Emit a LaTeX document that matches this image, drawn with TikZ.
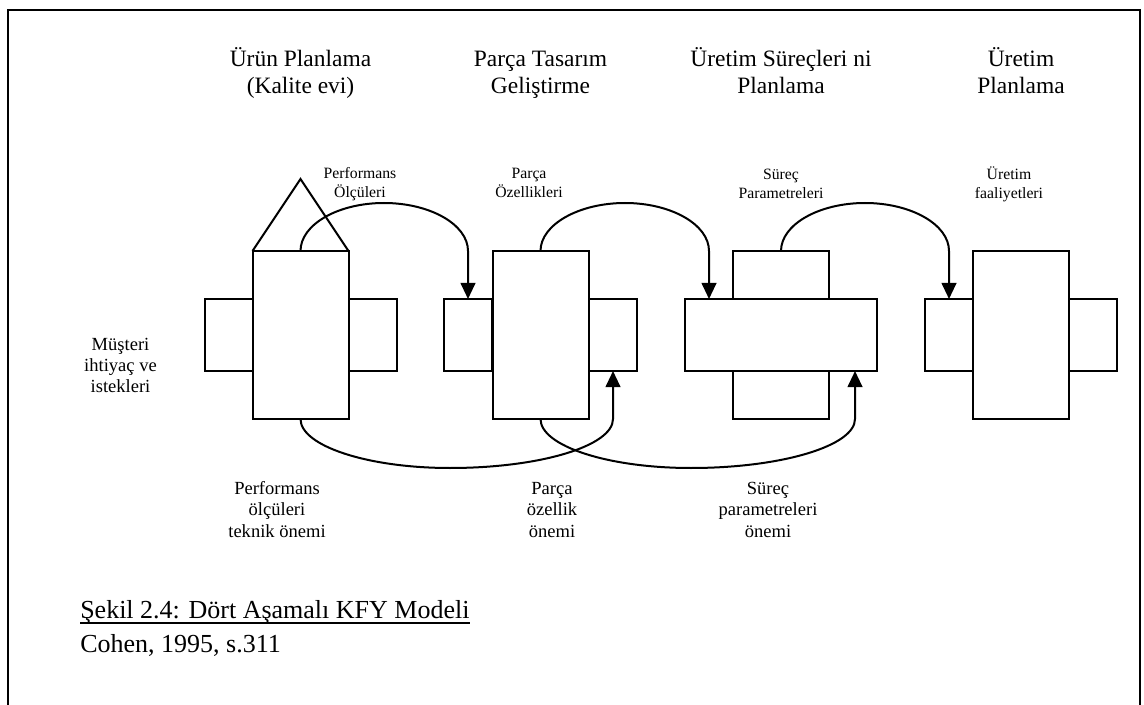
\documentclass[tikz,border=0pt]{standalone}
\usepackage{fontspec}
\setmainfont{Liberation Serif}
\usetikzlibrary{arrows.meta,calc}

% centred (or left) stack of lines whose baseline is the first line
\newcommand\labelstack[2][c]{\begin{tabular}[t]{@{}#1@{}}#2\end{tabular}}
% underlined caption line with a firm rule
\newsavebox\capbox
\newcommand\capline[1]{\sbox\capbox{#1}\rlap{\rule[-4.3pt]{\wd\capbox}{1.1pt}}\usebox\capbox}

\tikzset{
  px/.style={x=0.75pt,y=-0.75pt},
  box/.style={draw,fill=white,line width=1.5pt,inner sep=0pt,outer sep=0pt,rectangle},
  tallbox/.style={box,minimum width=72pt,minimum height=126pt},
  sidebox/.style={box,minimum width=36pt,minimum height=54pt},
  widebox/.style={box,minimum width=144pt,minimum height=54pt},
  link/.style={line width=1.5pt},
  flow/.style={link,-{Triangle[width=11pt,length=12pt]}},
  heading/.style={inner sep=0pt,anchor=base,font=\fontsize{17.6pt}{20.25pt}\selectfont},
  toplabel/.style={inner sep=0pt,anchor=base,font=\fontsize{11.8pt}{14.25pt}\selectfont},
  midlabel/.style={inner sep=0pt,anchor=base,font=\fontsize{13.9pt}{16.1pt}\selectfont},
  caption/.style={inner sep=0pt,anchor=base west,font=\fontsize{19.5pt}{25.5pt}\selectfont},
}

\begin{document}
\begin{tikzpicture}[px]
\useasboundingbox (0,0) rectangle (1144,705);

% open frame
\draw[line width=1.6pt] (8,705) -- (8,10) -- (1140,10) -- (1140,705);

% stage headings
\node[heading] (h1) at (300.5,67) {\labelstack{Ürün Planlama\\(Kalite evi)}};
\node[heading] (h2) at (540.5,67) {\labelstack{Parça Tasarım\\Geliştirme}};
\node[heading] (h3) at (781,67) {\labelstack{Üretim Süreçleri ni\\Planlama}};
\node[heading] (h4) at (1021,67) {\labelstack{Üretim\\Planlama}};

% stage 1: house of quality
\node[sidebox] (r1l) at (229,335) {};
\node[sidebox] (r1r) at (372.5,335) {};
\node[tallbox] (r1) at (300.5,335) {};
\coordinate (apex) at (300.5,179);
\draw[link] (r1.north west) -- (apex) -- (r1.north east);

% stage 2
\node[sidebox] (r2l) at (468,335) {};
\node[sidebox] (r2r) at (613,335) {};
\node[tallbox] (r2) at (540.5,335) {};

% stage 3
\node[tallbox] (r3) at (781,335) {};
\node[widebox] (w3) at (781,335) {};
\coordinate (w3out) at ($(w3.north west)+(24,0)$);
\coordinate (w3in) at ($(w3.south east)+(-22,0)$);

% stage 4
\node[sidebox] (r4l) at (949,335) {};
\node[sidebox] (r4r) at (1093,335) {};
\node[tallbox] (r4) at (1021,335) {};

% upper links
\draw[flow] (r1.north) .. controls +(0,-26.5) and +(-46,0) .. (384,203)
  .. controls +(46,0) and +(0,-26.5) .. (r2l.north |- r1.north) -- (r2l.north);
\draw[flow] (r2.north) .. controls +(0,-26.5) and +(-46,0) .. (625,203)
  .. controls +(46,0) and +(0,-26.5) .. (w3out |- r2.north) -- (w3out);
\draw[flow] (r3.north) .. controls +(0,-26.5) and +(-46,0) .. (865,203)
  .. controls +(46,0) and +(0,-26.5) .. (r4l.north |- r3.north) -- (r4l.north);

% lower links
\draw[flow] (r1.south) .. controls +(0,27) and +(-82,0) .. (450,468)
  .. controls +(90,0) and +(0,27) .. (r2r.south |- r1.south) -- (r2r.south);
\draw[flow] (r2.south) .. controls +(0,27) and +(-83,0) .. (691,468)
  .. controls +(90,0) and +(0,27) .. (w3in |- r2.south) -- (w3in);

% labels of the links
\node[toplabel] (t1) at (360,179) {\labelstack{Performans\\Ölçüleri}};
\node[toplabel] (t2) at (529,179) {\labelstack{Parça\\Özellikleri}};
\node[toplabel] (t3) at (781,180) {\labelstack{Süreç\\Parametreleri}};
\node[toplabel] (t4) at (1009,180) {\labelstack{Üretim\\faaliyetleri}};

\node[midlabel] (cust) at (120.5,350) {\labelstack{Müşteri\\ihtiyaç ve\\istekleri}};

\node[midlabel] (b1) at (277,494.5) {\labelstack{Performans\\ölçüleri\\teknik önemi}};
\node[midlabel] (b2) at (552,494.5) {\labelstack{Parça\\özellik\\önemi}};
\node[midlabel] (b3) at (768,494.5) {\labelstack{Süreç\\parametreleri\\önemi}};

% figure caption
\node[caption] (cap) at (80,618) {\labelstack[l]{\capline{Şekil 2.4: Dört Aşamalı KFY Modeli}\\Cohen, 1995, s.311}};
\end{tikzpicture}
\end{document}
